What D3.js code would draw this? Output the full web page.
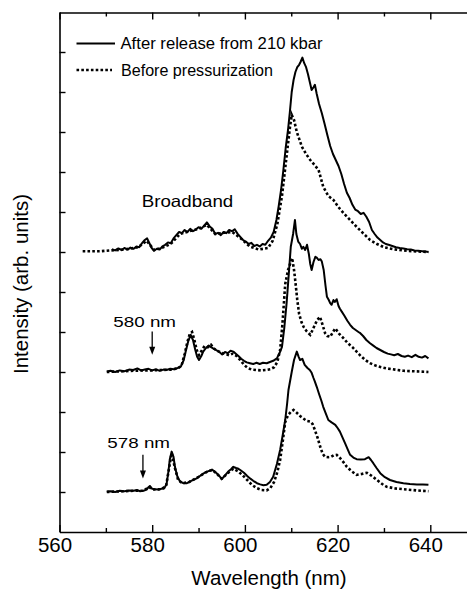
<!DOCTYPE html>
<html>
<head>
<meta charset="utf-8">
<script src="https://cdn.jsdelivr.net/npm/d3@7"></script>
<style>
  html, body { margin: 0; padding: 0; background: #fff; }
  svg { display: block; }
  text { font-family: "Liberation Sans", Arial, Helvetica, sans-serif; fill: #000; }
</style>
</head>
<body>
<svg id="chart" width="467" height="590"></svg>
<script>
// ---------------- data ----------------
const xMajorTicks = [560, 580, 600, 620, 640];
const xMinorTicks = [570, 590, 610, 630];
const yTicks = [1, 2, 3, 4, 5, 6, 7, 8, 9, 10, 11, 12];

const legendLabels = ["After release from 210 kbar", "Before pressurization"];

// Broadband excitation (offset baseline 7)
const bbAfterX = [571.3,572,572.7,573.4,574,574.7,575.3,576,576.6,577.2,577.8,578.4,578.9,579.4,579.9,580.4,581,581.6,582.2,582.8,583.4,584,584.6,585.2,585.8,586.4,587,587.6,588.2,588.8,589.4,590,590.6,591.2,591.8,592.4,593,593.6,594.2,594.8,595.4,596,596.6,597.2,597.8,598.4,599,599.6,600.2,600.8,601.4,602,602.6,603.2,603.8,604.4,605,605.6,606.2,606.8,607.3,607.8,608.3,608.8,609.3,609.7,610.1,610.5,610.9,611.3,611.7,612.0,612.4,612.8,613.2,613.6,614.0,614.4,614.8,615.1,615.5,616.0,616.6,617.2,617.8,618.4,619.0,619.6,620.2,620.8,621.4,622.0,622.6,623.2,623.8,624.4,625.0,625.6,626.2,626.8,627.4,628.0,628.6,629.2,629.8,630.4,631.0,631.8,632.6,633.4,634.2,635.0,635.8,636.6,637.4,638.2,639.0,639.6];
const bbAfterY = [7.07,7.04,7.09,7.05,7.10,7.06,7.11,7.08,7.14,7.12,7.22,7.30,7.34,7.22,7.10,7.03,7.08,7.06,7.14,7.18,7.24,7.22,7.34,7.42,7.50,7.47,7.55,7.50,7.58,7.52,7.56,7.62,7.58,7.66,7.74,7.64,7.58,7.45,7.48,7.42,7.50,7.47,7.55,7.52,7.57,7.46,7.38,7.30,7.26,7.20,7.23,7.15,7.18,7.14,7.20,7.18,7.28,7.36,7.50,7.80,8.15,8.55,9.05,9.60,10.05,10.50,11.00,11.30,11.50,11.62,11.68,11.75,11.86,11.72,11.62,11.45,11.25,11.05,11.12,11.18,10.95,10.70,10.47,10.20,9.92,9.65,9.45,9.30,9.15,8.95,8.70,8.48,8.35,8.18,8.06,8.02,7.95,7.98,7.88,7.75,7.55,7.45,7.36,7.30,7.24,7.20,7.18,7.15,7.12,7.10,7.09,7.07,7.06,7.04,7.03,7.02,7.01,7.00];
const bbBeforeX = [565,567,569,571,573,575,577,578.8,580.4,582,584,586,588,590,591.8,593.6,595.5,597.3,599,601,603,605,606,607,608,609,609.7,610.1,610.6,611.2,612.3,613.2,614.1,615,615.9,616.9,618,619.1,620.2,621.3,622.7,624.1,625.5,627,628.5,630,632,634,636,638,639.6];
const bbBeforeY = [7.02,7.02,7.02,7.04,7.05,7.08,7.12,7.28,7.05,7.10,7.20,7.45,7.52,7.58,7.68,7.45,7.48,7.50,7.35,7.14,7.06,7.10,7.28,7.70,8.40,9.40,10.10,10.43,10.30,10.00,9.63,9.45,9.30,9.18,9.05,8.63,8.40,8.30,8.12,7.97,7.80,7.63,7.47,7.30,7.20,7.12,7.07,7.04,7.02,7.01,7.00];

// 580 nm excitation (offset baseline 4)
const e580AfterX = [570.2,571,572,573,574,575,575.9,576.8,577.6,578.4,579.2,580,580.8,581.6,582.4,583.1,583.9,584.7,585.5,586.2,586.8,587.3,587.8,588.3,588.8,589.3,589.7,590.1,590.6,591.0,591.6,592.2,592.7,593.3,593.9,594.5,595.1,595.7,596.3,596.9,597.5,598.1,598.6,599.2,599.8,600.4,601.1,601.8,602.5,603.2,603.9,604.7,605.4,606.1,606.9,607.5,608.0,608.5,609.0,609.5,609.9,610.4,610.8,611.1,611.5,611.9,612.3,612.6,613.0,613.4,613.8,614.1,614.4,614.8,615.2,615.5,615.9,616.3,616.6,617.0,617.4,617.7,618.1,618.4,618.7,619.1,619.4,619.8,620.2,620.5,620.9,621.5,622.1,622.7,623.3,623.9,624.5,624.9,625.5,626.2,627.0,627.7,628.4,629.2,630.0,630.8,631.5,632.2,633.0,633.8,634.5,635.2,636.0,636.8,637.5,638.2,638.9,639.6];
const e580AfterY = [4.01,4.03,4.00,4.04,4.02,4.06,4.05,4.09,4.04,4.06,4.08,4.04,4.07,4.03,4.06,4.05,4.08,4.07,4.10,4.14,4.30,4.55,4.78,4.93,4.80,4.55,4.38,4.30,4.40,4.51,4.60,4.66,4.62,4.58,4.54,4.50,4.44,4.50,4.47,4.53,4.51,4.45,4.40,4.33,4.28,4.24,4.22,4.20,4.23,4.20,4.23,4.22,4.25,4.28,4.34,4.48,4.63,5.10,5.72,6.50,7.13,7.45,7.80,7.45,7.26,7.20,7.08,7.13,7.05,7.18,6.95,6.70,6.55,6.75,6.88,6.86,6.80,6.82,6.76,6.55,6.15,5.88,5.80,5.72,5.68,5.80,5.75,5.82,5.65,5.58,5.51,5.40,5.28,5.18,5.10,5.05,5.00,4.97,4.90,4.80,4.72,4.66,4.60,4.55,4.50,4.46,4.44,4.42,4.45,4.40,4.38,4.41,4.37,4.43,4.38,4.36,4.40,4.34];
const e580BeforeX = [570.2,572,574,576,578,580,582,584,585.5,586.3,587,587.6,588.1,588.6,589.1,589.6,590.1,590.6,591.3,592,592.7,593.4,594.2,595,595.8,596.6,597.4,598.2,599,599.8,600.6,601.5,602.5,603.5,604.5,605.5,606.3,607,607.6,608.1,608.7,609.3,609.8,610.2,610.6,610.9,611.3,611.7,612.2,612.7,613.3,614.1,614.6,615.1,615.6,616.2,616.7,617.3,617.8,618.4,619.0,619.5,620.3,621.3,622.2,623.2,624.1,625.0,626.0,627.0,628.2,629.4,630.6,632.4,634.2,636,638,639.6];
const e580BeforeY = [4.00,4.01,4.02,4.03,4.04,4.04,4.05,4.06,4.09,4.15,4.45,4.75,4.95,5.00,4.80,4.55,4.42,4.52,4.65,4.62,4.68,4.58,4.52,4.48,4.45,4.42,4.46,4.40,4.30,4.18,4.10,4.06,4.05,4.04,4.05,4.07,4.12,4.25,4.55,5.20,6.20,6.55,6.72,6.85,6.55,6.25,5.80,5.45,5.25,5.12,5.02,4.93,5.05,5.18,5.30,5.38,5.20,4.97,4.90,4.88,5.00,5.09,4.96,4.84,4.72,4.62,4.51,4.40,4.30,4.22,4.16,4.12,4.09,4.06,4.03,4.02,4.01,4.00];

// 578 nm excitation (offset baseline 1)
const e578AfterX = [570.2,571,572,573,574,575,576,576.7,577.4,578.1,578.8,579.2,579.5,580,580.6,581.3,582,582.6,583.1,583.5,583.8,584.2,584.6,584.9,585.4,586.0,586.7,587.5,588.3,589.0,589.6,590.3,591.0,591.8,592.4,592.9,593.4,593.9,594.5,595.0,595.6,596.4,597.0,597.5,598.1,598.6,599.0,599.8,600.5,601.1,601.8,602.6,603.3,604.0,604.7,605.4,606.1,606.9,607.6,608.2,608.7,609.1,609.4,610.1,610.6,611.2,611.6,611.9,612.4,612.9,613.5,614.0,614.4,614.8,615.1,615.5,616.0,616.5,616.9,617.4,618.0,618.7,619.5,620.0,620.5,621.0,621.6,622.2,622.7,623.4,624.1,625.0,625.9,626.7,627.2,627.7,628.4,629.2,630.2,631.3,632.7,634.2,635.6,637.1,638.4,639.6];
const e578AfterY = [1.01,1.02,1.00,1.03,1.02,1.04,1.03,1.05,1.02,1.03,1.06,1.12,1.15,1.08,1.07,1.06,1.08,1.09,1.20,1.51,1.82,2.01,1.88,1.63,1.40,1.26,1.22,1.22,1.27,1.31,1.34,1.40,1.46,1.51,1.53,1.56,1.52,1.47,1.40,1.32,1.40,1.51,1.57,1.63,1.60,1.58,1.55,1.48,1.40,1.34,1.28,1.22,1.19,1.17,1.18,1.25,1.38,1.70,2.05,2.45,2.80,3.20,3.55,4.00,4.30,4.51,4.38,4.30,4.33,4.18,4.10,4.05,3.98,3.85,3.76,3.63,3.45,3.28,3.13,2.98,2.80,2.74,2.68,2.60,2.51,2.38,2.22,2.06,1.93,1.86,1.82,1.81,1.82,1.87,1.80,1.72,1.60,1.47,1.37,1.30,1.25,1.22,1.20,1.19,1.19,1.18];
const e578BeforeX = [570.2,572,574,576,578,579.4,580,582,583,583.5,584.2,584.9,585.6,586.5,588,590,592,593,594,595,596.4,597.5,598.5,599.5,600.5,601.5,602.5,603.6,604.7,605.5,606.3,607,607.6,608.2,608.7,609.3,609.9,610.5,611.2,611.9,612.6,613.3,614.1,614.6,615.1,615.7,616.2,616.8,617.3,618.0,618.6,619.2,619.8,620.5,621.3,622.0,623.0,624.1,625.2,626.3,627.4,628.5,629.6,630.6,632.4,634.2,636,638,639.6];
const e578BeforeY = [1.00,1.01,1.02,1.03,1.03,1.12,1.06,1.07,1.15,1.50,1.97,1.60,1.30,1.22,1.25,1.38,1.52,1.55,1.45,1.33,1.48,1.58,1.52,1.42,1.30,1.18,1.10,1.05,1.04,1.10,1.25,1.50,1.80,2.30,2.75,2.92,3.00,3.05,2.98,2.90,2.84,2.78,2.76,2.70,2.55,2.35,2.15,1.95,1.88,1.87,1.88,1.92,1.93,1.85,1.74,1.63,1.52,1.43,1.45,1.48,1.40,1.30,1.20,1.13,1.09,1.07,1.05,1.03,1.02];

// annotations: [label, arrow wavelength, arrow top, arrow tip]
const annotLabels = ["Broadband", "580 nm", "578 nm"];
const arrowX = [580, 578];
const arrowTop = [5.01, 1.93];
const arrowTip = [4.43, 1.34];

// ---------------- chart ----------------
const svg = d3.select("#chart");
const L = 59.5, T = 12.5, B = 532;
const x = d3.scaleLinear().domain([560, 650]).range([L, L + 90 * 4.635]);
const y = d3.scaleLinear().domain([0, 13]).range([B, B - 13 * 40]);

// frame / axes
const gBottom = svg.append("g").attr("transform", `translate(0,${B})`)
  .call(d3.axisBottom(x).tickValues(xMajorTicks).tickSizeInner(-7).tickSizeOuter(0).tickPadding(5).tickFormat(d3.format("d")));
gBottom.selectAll("text").attr("font-size", 20.5).attr("dx", -5).attr("font-family", "Liberation Sans, Arial, sans-serif");
svg.append("g").attr("transform", `translate(0,${B})`)
  .call(d3.axisBottom(x).tickValues(xMinorTicks).tickSizeInner(-4).tickSizeOuter(0).tickFormat(""))
  .select(".domain").remove();

svg.append("g").attr("transform", `translate(0,${T})`)
  .call(d3.axisTop(x).tickValues(xMajorTicks).tickSizeInner(-7).tickSizeOuter(0).tickFormat(""));
svg.append("g").attr("transform", `translate(0,${T})`)
  .call(d3.axisTop(x).tickValues(xMinorTicks).tickSizeInner(-4).tickSizeOuter(0).tickFormat(""))
  .select(".domain").remove();

svg.append("g").attr("transform", `translate(${L},0)`)
  .call(d3.axisLeft(y).tickValues(yTicks).tickSizeInner(-6).tickSizeOuter(0).tickFormat(""));
svg.append("g").attr("transform", `translate(${x(650)},0)`)
  .call(d3.axisRight(y).tickValues(yTicks).tickSizeInner(-6).tickSizeOuter(0).tickFormat(""));

svg.selectAll(".domain").attr("stroke", "#000").attr("stroke-width", 1.6);
svg.selectAll(".tick line").attr("stroke", "#000").attr("stroke-width", 1.4);

// series
const line = d3.line().x(d => x(d[0])).y(d => y(d[1]));
const zip = (a, b) => a.map((v, i) => [v, b[i]]);

const dotted = [zip(bbBeforeX, bbBeforeY), zip(e580BeforeX, e580BeforeY), zip(e578BeforeX, e578BeforeY)];
const solid = [zip(bbAfterX, bbAfterY), zip(e580AfterX, e580AfterY), zip(e578AfterX, e578AfterY)];

svg.append("g").selectAll("path").data(dotted).join("path")
  .attr("d", line).attr("fill", "none").attr("stroke", "#000")
  .attr("stroke-width", 2.6).attr("stroke-dasharray", "2.6,2.2");
svg.append("g").selectAll("path").data(solid).join("path")
  .attr("d", line).attr("fill", "none").attr("stroke", "#000")
  .attr("stroke-width", 2).attr("stroke-linejoin", "round");

// legend
svg.append("line").attr("x1", 76.5).attr("x2", 115).attr("y1", 43.5).attr("y2", 43.5)
  .attr("stroke", "#000").attr("stroke-width", 2);
svg.append("line").attr("x1", 76.5).attr("x2", 112).attr("y1", 70).attr("y2", 70)
  .attr("stroke", "#000").attr("stroke-width", 2.6).attr("stroke-dasharray", "2.6,2.2");
svg.append("text").attr("x", 120.5).attr("y", 49).attr("font-size", 16)
  .attr("textLength", 202).attr("lengthAdjust", "spacingAndGlyphs").text(legendLabels[0]);
svg.append("text").attr("x", 121).attr("y", 75.5).attr("font-size", 16)
  .attr("textLength", 152).attr("lengthAdjust", "spacingAndGlyphs").text(legendLabels[1]);

// annotations
svg.append("text").attr("x", 141.7).attr("y", 206.7).attr("font-size", 16.5)
  .attr("textLength", 91.6).attr("lengthAdjust", "spacingAndGlyphs").text(annotLabels[0]);
svg.append("text").attr("x", 113.3).attr("y", 326.7).attr("font-size", 15.5)
  .attr("textLength", 62.7).attr("lengthAdjust", "spacingAndGlyphs").text(annotLabels[1]);
svg.append("text").attr("x", 107.3).attr("y", 448.3).attr("font-size", 15.5)
  .attr("textLength", 62.7).attr("lengthAdjust", "spacingAndGlyphs").text(annotLabels[2]);

arrowX.forEach((w, i) => {
  const ax = x(w), y0 = y(arrowTop[i]), y1 = y(arrowTip[i]);
  svg.append("line").attr("x1", ax).attr("x2", ax).attr("y1", y0).attr("y2", y1 - 6)
    .attr("stroke", "#000").attr("stroke-width", 1.3);
  svg.append("path").attr("d", `M${ax - 3},${y1 - 8} L${ax + 3},${y1 - 8} L${ax},${y1} Z`).attr("fill", "#000");
});

// axis titles
svg.append("text").attr("x", 269).attr("y", 584.5).attr("text-anchor", "middle")
  .attr("font-size", 20.5).text("Wavelength (nm)");
svg.append("text").attr("transform", "translate(27.5,284) rotate(-90)").attr("text-anchor", "middle")
  .attr("font-size", 20.5).text("Intensity (arb. units)");
</script>
</body>
</html>
